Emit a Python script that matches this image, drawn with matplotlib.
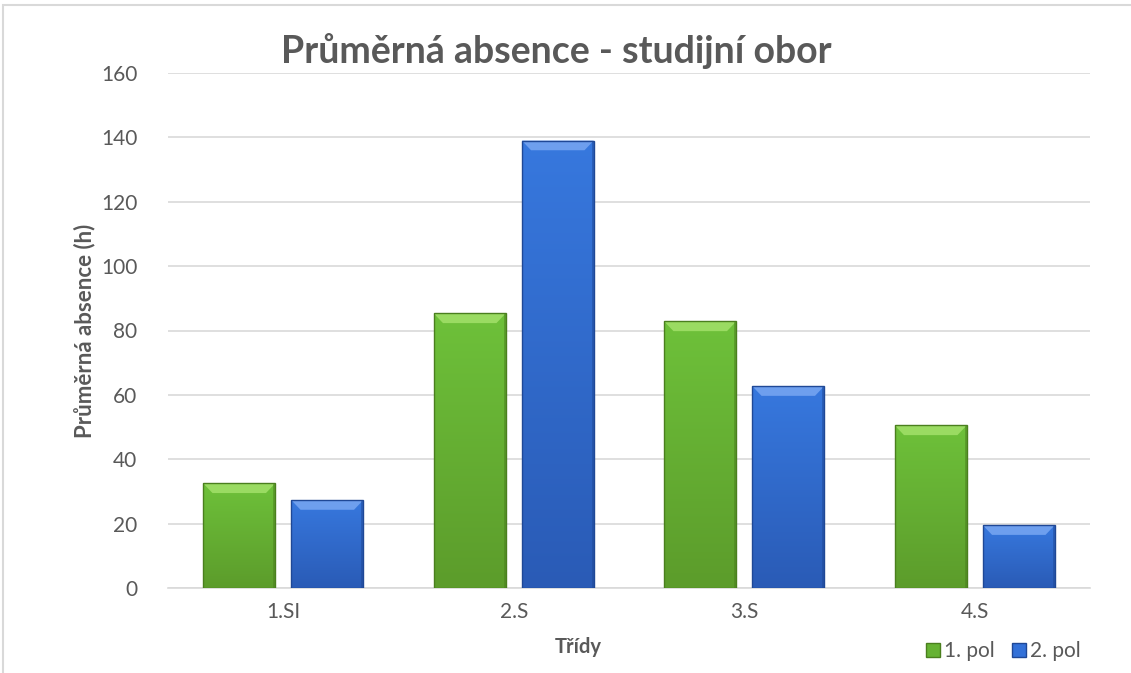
import numpy as np
import matplotlib
matplotlib.use("Agg")
import matplotlib.pyplot as plt
from matplotlib.patches import Polygon, Rectangle
from matplotlib.colors import LinearSegmentedColormap
from matplotlib.lines import Line2D

plt.rcParams['font.family'] = ['Lato', 'DejaVu Sans']

# data
classes = ["1.SI", "2.S", "3.S", "4.S"]
pol1 = [32.5, 85.3, 82.8, 50.5]
pol2 = [27.3, 139.0, 62.7, 19.5]
series_names = ["1. pol", "2. pol"]

green = {"hi": "#6EC13A", "lo": "#5C9C2B", "top": "#9ADB62", "side": "#4A7F1E", "face": "#66B233"}
blue = {"hi": "#3778DE", "lo": "#2A5BB6", "top": "#6E9FEE", "side": "#1F4896", "face": "#3371D8"}

fig = plt.figure(figsize=(11.31, 6.73), dpi=100)
ax = fig.add_axes([168/1131, 1-588/673, (1090-168)/1131, (588-73)/673])

x = np.arange(len(classes))
w = 0.312
off = 0.5 * (w + 0.07)
grad = np.linspace(1, 0, 256).reshape(-1, 1)


def bevel_bars(xs, vals, col):
    bars = ax.bar(xs, vals, w, color="none", edgecolor=col["side"], linewidth=1.0, zorder=5)
    cmap = LinearSegmentedColormap.from_list("g", [col["lo"], col["hi"]])
    bx = 0.04
    by = 3.0
    for b in bars:
        x0, y0 = b.get_x(), b.get_y()
        x1, y1 = x0 + b.get_width(), y0 + b.get_height()
        im = ax.imshow(grad, extent=[x0, x1, y0, y1], cmap=cmap, aspect="auto",
                       interpolation="bilinear", zorder=3)
        im.set_clip_path(b)
        ax.add_patch(Polygon([(x0, y1), (x1, y1), (x1 - bx, y1 - by), (x0 + bx, y1 - by)],
                             closed=True, facecolor=col["top"], edgecolor="none", zorder=4))
        ax.add_patch(Polygon([(x1, y1), (x1, y0), (x1 - 0.008, y0), (x1 - 0.008, y1)],
                             closed=True, facecolor=col["side"], edgecolor="none", alpha=0.5, zorder=4))
    return bars


bevel_bars(x - off, pol1, green)
bevel_bars(x + off, pol2, blue)

ax.set_xlim(-0.5, len(classes) - 0.5)
ax.set_ylim(0, 160)
ax.set_yticks(range(0, 161, 20))
ax.set_xticks(x)
ax.set_xticklabels(classes)
ax.grid(axis="y", color="#D9D9D9", linewidth=1.2, zorder=0)
for s in ["top", "right", "left"]:
    ax.spines[s].set_visible(False)
ax.spines["bottom"].set_color("#D9D9D9")
ax.spines["bottom"].set_linewidth(1.2)
ax.tick_params(axis="both", length=0, labelsize=15, colors="#595959")
ax.tick_params(axis="y", pad=22)
ax.tick_params(axis="x", pad=10)

ax.set_ylabel("Průměrná absence (h)", fontsize=16, fontweight="bold", color="#595959", labelpad=4)
ax.set_xlabel("Třídy", fontsize=14.5, fontweight="bold", color="#595959", va="center")
ax.xaxis.set_label_coords((578 - 168) / 922, (588 - 647) / 515)

fig.text(556/1131, 1-51/673, "Průměrná absence - studijní obor", fontsize=27,
         fontweight="bold", color="#595959", ha="center", va="center")

handles = [Line2D([], [], marker="s", linestyle="none", markersize=10,
                  markerfacecolor=green["face"], markeredgecolor=green["side"]),
           Line2D([], [], marker="s", linestyle="none", markersize=10,
                  markerfacecolor=blue["face"], markeredgecolor=blue["side"])]
fig.legend(handles, series_names, loc="center", bbox_to_anchor=(1001/1131, 1-651/673),
           ncol=2, frameon=False, fontsize=15, handletextpad=0.0, columnspacing=0.6,
           handlelength=1.1, labelcolor="#595959")

# outer frame
fig.add_artist(Rectangle((3/1131, -0.1), 1.2, 1.1 - 5/673, transform=fig.transFigure,
                         fill=False, edgecolor="#D9D9D9", linewidth=1.5))

fig.savefig("out.png", dpi=100)
